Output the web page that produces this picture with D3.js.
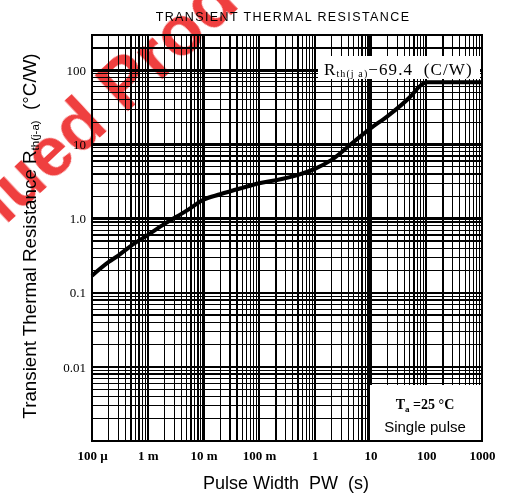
<!DOCTYPE html>
<html><head><meta charset="utf-8">
<script src="https://cdn.jsdelivr.net/npm/d3@7"></script>
<style>body{margin:0;background:#fff}svg{display:block}</style>
</head><body>
<svg id="chart" width="509" height="497"></svg>
<script>
// ---- data ----
const pulseWidth = [1e-4, 2e-4, 3e-4, 5e-4, 1e-3, 2e-3, 5e-3, 1e-2, 2e-2, 5e-2, 0.1, 0.2, 0.5, 1, 2, 5, 10, 20, 50, 80, 100, 1000];
const rthValues  = [0.17, 0.26, 0.32, 0.43, 0.6, 0.85, 1.28, 1.8, 2.13, 2.6, 3.0, 3.3, 3.9, 4.7, 6.2, 10.9, 16.5, 24, 43, 63, 69.4, 69.4];
const xTickValues = [1e-4, 1e-3, 1e-2, 1e-1, 1, 10, 100, 1000];
const xTickLabels = ["100 \u00b5", "1 m", "10 m", "100 m", "1", "10", "100", "1000"];
const yTickValues = [100, 10, 1, 0.1, 0.01];
const yTickLabels = ["100", "10", "1.0", "0.1", "0.01"];
const xDomain = [1e-4, 1e3];
const yDomain = [1e-3, 300];

const svg = d3.select("#chart");
const L = 92, R = 482, T = 35, B = 441;
const x = d3.scaleLog().domain(xDomain).range([L, R]);
const y = d3.scaleLog().domain(yDomain).range([B, T]);

// watermark (behind grid)
const wm = svg.append("g").attr("fill", "#ee2a2a").attr("opacity", 0.9)
  .attr("font-family", "Liberation Sans, Arial, sans-serif").attr("font-weight", "bold").attr("font-size", 70);
const wx = 110, wy = 128, ang = -43;
wm.append("text").attr("transform", `translate(${wx},${wy}) rotate(${ang})`).attr("text-anchor", "end").text("Discontinued");
wm.append("text").attr("transform", `translate(${wx},${wy}) rotate(${ang}) translate(20,0)`).attr("text-anchor", "start").text("Product");

// grid
const minorX = [], minorY = [];
for (let e = -4; e < 3; e++) for (let m = 2; m <= 9; m++) minorX.push(m * Math.pow(10, e));
for (let e = -3; e < 3; e++) for (let m = 2; m <= 9; m++) { const v = m * Math.pow(10, e); if (v <= 300) minorY.push(v); }
const majorX = xTickValues, majorY = [0.001, 0.01, 0.1, 1, 10, 100];
const grid = svg.append("g").attr("stroke", "#000").attr("shape-rendering", "crispEdges");
grid.selectAll(".mx").data(minorX).join("line").attr("x1", d => x(d)).attr("x2", d => x(d)).attr("y1", T).attr("y2", B).attr("stroke-width", 1.2);
grid.selectAll(".my").data(minorY).join("line").attr("y1", d => y(d)).attr("y2", d => y(d)).attr("x1", L).attr("x2", R).attr("stroke-width", 1.2);
grid.selectAll(".Mx").data(majorX).join("line").attr("x1", d => x(d)).attr("x2", d => x(d)).attr("y1", T).attr("y2", B).attr("stroke-width", 2.4);
grid.selectAll(".My").data(majorY).join("line").attr("y1", d => y(d)).attr("y2", d => y(d)).attr("x1", L).attr("x2", R).attr("stroke-width", 2.4);
svg.append("rect").attr("x", L).attr("y", T).attr("width", R - L).attr("height", B - T)
  .attr("fill", "none").attr("stroke", "#000").attr("stroke-width", 2);

// annotation boxes
svg.append("rect").attr("x", 318).attr("y", 56).attr("width", 162).attr("height", 23).attr("fill", "#fff");
svg.append("rect").attr("x", 370).attr("y", 385).attr("width", 111).attr("height", 55).attr("fill", "#fff");

// curve
const line = d3.line().x(d => x(d[0])).y(d => y(d[1])).curve(d3.curveMonotoneX);
svg.append("path").datum(pulseWidth.map((p, i) => [p, rthValues[i]]))
  .attr("d", line).attr("fill", "none").attr("stroke", "#000").attr("stroke-width", 4).attr("stroke-linejoin", "round");

// axes labels
const serif = "Liberation Serif, Times New Roman, serif";
const xAxis = d3.axisBottom(x).tickValues(xTickValues).tickFormat((d, i) => xTickLabels[i]).tickSize(0).tickPadding(10);
const gx = svg.append("g").attr("transform", `translate(0,${B})`).call(xAxis);
gx.select(".domain").remove();
gx.selectAll("text").attr("font-family", serif).attr("font-size", 13).attr("font-weight", "bold").attr("fill", "#000");

const yAxis = d3.axisLeft(y).tickValues(yTickValues).tickFormat((d, i) => yTickLabels[i]).tickSize(0).tickPadding(6);
const gy = svg.append("g").attr("transform", `translate(${L},0)`).call(yAxis);
gy.select(".domain").remove();
gy.selectAll("text").attr("font-family", serif).attr("font-size", 13).attr("fill", "#000");

// title
svg.append("text").attr("x", 283).attr("y", 21).attr("text-anchor", "middle")
  .attr("font-family", "Liberation Sans, Arial, sans-serif").attr("font-size", 12.5).attr("letter-spacing", 1.4)
  .text("TRANSIENT THERMAL RESISTANCE");

// axis titles
svg.append("text").attr("x", 286).attr("y", 489).attr("text-anchor", "middle")
  .attr("font-family", "Liberation Sans, Arial, sans-serif").attr("font-size", 18).attr("xml:space", "preserve")
  .text("Pulse Width  PW  (s)");
const yt = svg.append("text").attr("transform", "translate(36,236) rotate(-90)").attr("text-anchor", "middle")
  .attr("font-family", "Liberation Sans, Arial, sans-serif").attr("font-size", 18.8).attr("xml:space", "preserve");
yt.append("tspan").text("Transient Thermal Resistance R");
yt.append("tspan").attr("font-size", 11.5).attr("dy", 3).text("th(j-a)");
yt.append("tspan").attr("dy", -3).text("  (\u00b0C/W)");

// Rth annotation
const an = svg.append("text").attr("x", 324).attr("y", 75).attr("font-family", serif).attr("font-size", 17)
  .attr("letter-spacing", 1.1).attr("xml:space", "preserve");
an.append("tspan").text("R");
an.append("tspan").attr("font-size", 10).attr("dy", 2).text("th(j a)");
an.append("tspan").attr("dy", -2).text("\u221269.4  (C/W)");

// Ta annotation
const ta = svg.append("text").attr("x", 425).attr("y", 409).attr("text-anchor", "middle").attr("font-family", serif).attr("font-size", 14).attr("font-weight", "bold");
ta.append("tspan").text("T");
ta.append("tspan").attr("font-size", 9).attr("dy", 3).text("a");
ta.append("tspan").attr("dy", -3).text(" =25 \u00b0C");
svg.append("text").attr("x", 425).attr("y", 432).attr("text-anchor", "middle")
  .attr("font-family", "Liberation Sans, Arial, sans-serif").attr("font-size", 15).text("Single pulse");
</script>
</body></html>
